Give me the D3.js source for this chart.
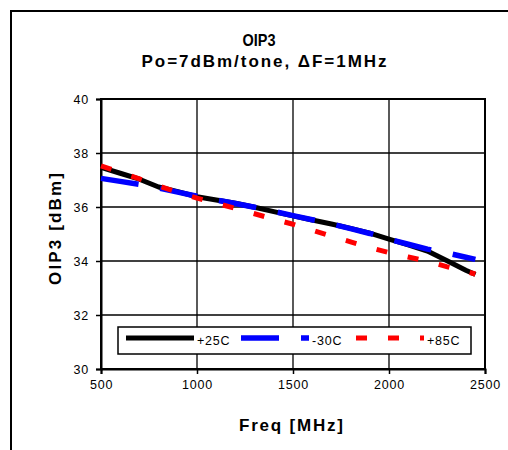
<!DOCTYPE html>
<html>
<head>
<meta charset="utf-8">
<script src="https://cdn.jsdelivr.net/npm/d3@7"></script>
<style>
  body { margin: 0; background: #fff; }
  text { font-family: "Liberation Sans", Arial, sans-serif; }
</style>
</head>
<body>
<svg id="chart" width="508" height="450"></svg>
<script>
// values
var freq  = [500, 600, 700, 800, 900, 1000, 1100, 1200, 1300, 1400, 1500,
             1600, 1700, 1800, 1900, 2000, 2100, 2200, 2300, 2400, 2450];
var t25   = [37.47, 37.25, 37.03, 36.74, 36.57, 36.38, 36.26, 36.14, 35.99, 35.83, 35.67,
             35.52, 35.37, 35.21, 35.03, 34.81, 34.60, 34.37, 34.02, 33.66, 33.50];
var tm30  = [37.06, 36.95, 36.84, 36.70, 36.55, 36.40, 36.26, 36.13, 35.99, 35.84, 35.68,
             35.53, 35.37, 35.20, 35.02, 34.81, 34.62, 34.44, 34.30, 34.14, 34.06];
var t85   = [37.52, 37.28, 37.04, 36.78, 36.55, 36.33, 36.14, 35.95, 35.75, 35.55, 35.36,
             35.14, 34.92, 34.71, 34.50, 34.31, 34.15, 33.99, 33.79, 33.61, 33.52];
var seriesNames = ["+25C", "-30C", "+85C"];
var xTicks = [500, 1000, 1500, 2000, 2500];
var yTicks = [30, 32, 34, 36, 38, 40];
var titleLines = ["OIP3", "Po=7dBm/tone, \u0394F=1MHz"];

function load() {
  var svg = d3.select("#chart");

  // outer chart frame, runs off the right and bottom edge
  svg.append("rect")
    .attr("x", 11).attr("y", 11)
    .attr("width", 600).attr("height", 500)
    .style("fill", "#fff")
    .style("stroke", "#000")
    .style("stroke-width", 2);

  var x = d3.scaleLinear().domain([500, 2500]).range([101, 485]);
  var y = d3.scaleLinear().domain([30, 40]).range([369, 99]);

  // grid
  var grid = svg.append("g");
  grid.selectAll("line.v").data(xTicks).enter().append("line")
    .attr("x1", function(d) { return x(d); }).attr("x2", function(d) { return x(d); })
    .attr("y1", y(30)).attr("y2", y(40))
    .style("stroke", "#000").style("stroke-width", 1.3);
  grid.selectAll("line.h").data(yTicks).enter().append("line")
    .attr("x1", x(500)).attr("x2", x(2500))
    .attr("y1", function(d) { return y(d); }).attr("y2", function(d) { return y(d); })
    .style("stroke", "#000").style("stroke-width", 1.3);
  grid.append("rect")
    .attr("x", x(500)).attr("y", y(40))
    .attr("width", x(2500) - x(500)).attr("height", y(30) - y(40))
    .style("fill", "none").style("stroke", "#000").style("stroke-width", 2);

  // axes
  var yAxis = svg.append("g")
    .attr("transform", "translate(" + x(500) + ",0)")
    .call(d3.axisLeft(y).tickValues(yTicks).tickSize(5).tickPadding(7));
  var xAxis = svg.append("g")
    .attr("transform", "translate(0," + y(30) + ")")
    .call(d3.axisBottom(x).tickValues(xTicks).tickSize(5).tickPadding(6).tickFormat(d3.format("d")));
  [xAxis, yAxis].forEach(function(a) {
    a.select(".domain").style("stroke", "#000").style("stroke-width", 2);
    a.selectAll(".tick line").style("stroke", "#000").style("stroke-width", 1.5);
    a.selectAll(".tick text")
      .style("font-size", "12.5px")
      .style("letter-spacing", "0.8px")
      .style("fill", "#000");
  });

  // series
  var series = [
    {name: seriesNames[0], values: t25,  color: "#000000", width: 5,   dash: null},
    {name: seriesNames[1], values: tm30, color: "#0000ff", width: 5.5, dash: "38,22"},
    {name: seriesNames[2], values: t85,  color: "#ff0000", width: 5,   dash: "11,21"}
  ];
  var line = d3.line()
    .x(function(d) { return x(d[0]); })
    .y(function(d) { return y(d[1]); });
  series.forEach(function(s) {
    var pts = freq.map(function(f, i) { return [f, s.values[i]]; });
    svg.append("path")
      .attr("d", line(pts))
      .style("fill", "none")
      .style("stroke", s.color)
      .style("stroke-width", s.width)
      .style("stroke-linejoin", "round")
      .style("stroke-dasharray", s.dash);
  });

  // legend
  var lg = svg.append("g");
  lg.append("rect")
    .attr("x", 118).attr("y", 327).attr("width", 353).attr("height", 27)
    .style("fill", "#fff").style("stroke", "#000").style("stroke-width", 1.5);
  var legX = [126, 241, 356];
  series.forEach(function(s, i) {
    lg.append("line")
      .attr("x1", legX[i]).attr("x2", legX[i] + 68)
      .attr("y1", 338).attr("y2", 338)
      .style("stroke", s.color)
      .style("stroke-width", s.width)
      .style("stroke-dasharray", s.dash);
    lg.append("text")
      .attr("x", legX[i] + 71).attr("y", 345)
      .style("font-size", "12.5px")
      .style("letter-spacing", "0.8px")
      .text(s.name);
  });

  // titles
  svg.append("text")
    .attr("x", 259).attr("y", 46)
    .attr("text-anchor", "middle")
    .attr("textLength", 33).attr("lengthAdjust", "spacingAndGlyphs")
    .style("font-size", "16.5px").style("font-weight", "bold")
    .text(titleLines[0]);
  svg.append("text")
    .attr("x", 264).attr("y", 67)
    .attr("text-anchor", "middle")
    .attr("textLength", 245).attr("lengthAdjust", "spacing")
    .style("font-size", "17px").style("font-weight", "bold")
    .text(titleLines[1]);

  svg.append("text")
    .attr("x", 291).attr("y", 431)
    .attr("text-anchor", "middle")
    .attr("textLength", 104).attr("lengthAdjust", "spacing")
    .style("font-size", "17px").style("font-weight", "bold")
    .text("Freq [MHz]");
  svg.append("text")
    .attr("transform", "translate(61,229) rotate(-90)")
    .attr("text-anchor", "middle")
    .attr("textLength", 112).attr("lengthAdjust", "spacing")
    .style("font-size", "17px").style("font-weight", "bold")
    .text("OIP3 [dBm]");
}

load();
</script>
</body>
</html>
